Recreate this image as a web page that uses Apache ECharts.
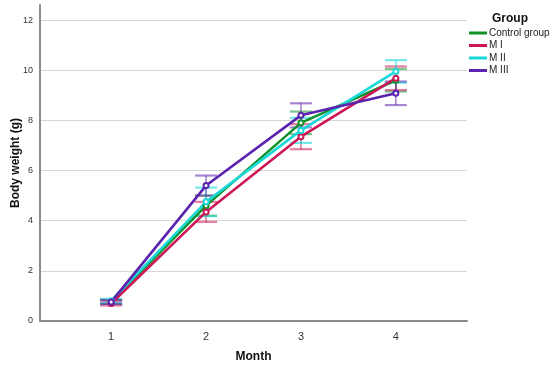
<!DOCTYPE html>
<html><head><meta charset="utf-8">
<script src="https://cdn.jsdelivr.net/npm/echarts@6/dist/echarts.min.js"></script>
<style>html,body{margin:0;padding:0;background:#fff}#c{width:550px;height:368px}</style>
</head><body><div id="c"></div>
<script>
var months = [1, 2, 3, 4];
var groupNames = ['Control group', 'M I', 'M II', 'M III'];
var controlMean = [0.76, 4.6, 7.9, 9.6];
var controlErr  = [0.08, 0.4, 0.45, 0.45];
var m1Mean = [0.70, 4.35, 7.35, 9.68];
var m1Err  = [0.08, 0.4, 0.5, 0.47];
var m2Mean = [0.80, 4.75, 7.6, 9.95];
var m2Err  = [0.08, 0.57, 0.5, 0.45];
var m3Mean = [0.76, 5.4, 8.2, 9.08];
var m3Err  = [0.08, 0.4, 0.48, 0.47];
var yTicks = [0, 2, 4, 6, 8, 10, 12];

var colors = ['#12912b', '#cc1656', '#1ad8d8', '#5a22ad'];
var errColors = ['rgba(18,145,43,0.55)', 'rgba(204,22,86,0.55)', 'rgba(26,216,216,0.6)', 'rgba(90,34,173,0.55)'];
var means = [controlMean, m1Mean, m2Mean, m3Mean];
var errs = [controlErr, m1Err, m2Err, m3Err];

var series = [];
means.forEach(function (m, gi) {
  var eData = months.map(function (x, i) { return [x, m[i] - errs[gi][i], m[i] + errs[gi][i]]; });
  series.push({
    type: 'custom', name: groupNames[gi] + ' err', z: 2, silent: true,
    renderItem: function (params, api) {
      var lo = api.coord([api.value(0), api.value(1)]);
      var hi = api.coord([api.value(0), api.value(2)]);
      var w = 11;
      var st = { stroke: errColors[gi], lineWidth: 1.6 };
      return { type: 'group', children: [
        { type: 'line', shape: { x1: lo[0], y1: lo[1], x2: hi[0], y2: hi[1] }, style: st },
        { type: 'line', shape: { x1: lo[0] - w, y1: lo[1], x2: lo[0] + w, y2: lo[1] }, style: { stroke: errColors[gi], lineWidth: 2.2 } },
        { type: 'line', shape: { x1: hi[0] - w, y1: hi[1], x2: hi[0] + w, y2: hi[1] }, style: { stroke: errColors[gi], lineWidth: 2.2 } }
      ]};
    },
    encode: { x: 0, y: [1, 2] },
    data: eData
  });
});
means.forEach(function (m, gi) {
  series.push({
    type: 'line', name: groupNames[gi], z: 3,
    data: months.map(function (x, i) { return [x, m[i]]; }),
    symbol: 'emptyCircle', symbolSize: 5,
    itemStyle: { color: colors[gi], borderWidth: 1 },
    lineStyle: { color: colors[gi], width: 2.6 },
    emphasis: { disabled: true }
  });
});

var chart = echarts.init(document.getElementById('c'));
chart.setOption({
  animation: false,
  backgroundColor: '#fff',
  title: { text: 'Group', left: 487, top: 8, textStyle: { fontFamily: 'Liberation Sans, Arial', fontSize: 12, fontWeight: 'bold', color: '#111' } },
  legend: {
    data: groupNames, orient: 'vertical', left: 469, top: 28, itemWidth: 18, itemHeight: 3, itemGap: 2.5,
    icon: 'rect', padding: 0,
    textStyle: { fontFamily: 'Liberation Sans, Arial', fontSize: 10, color: '#222', padding: [0, 0, 0, -3] }
  },
  grid: { left: 40, right: 83, top: 5, bottom: 47, outerBoundsMode: 'none', containLabel: false },
  xAxis: {
    type: 'value', min: 0.25, max: 4.75, interval: 0.25,
    name: 'Month', nameLocation: 'middle', nameGap: 30, nameMoveOverlap: false,
    nameTextStyle: { fontFamily: 'Liberation Sans, Arial', fontSize: 12, fontWeight: 'bold', color: '#111' },
    axisLine: { lineStyle: { color: '#8c8c8c', width: 2 } },
    axisTick: { show: false },
    splitLine: { show: false },
    axisLabel: { margin: 10, fontFamily: 'Liberation Sans, Arial', fontSize: 11, color: '#333',
      formatter: function (v) { return months.indexOf(v) >= 0 ? String(v) : ''; } }
  },
  yAxis: {
    type: 'value', min: 0, max: 12.6, interval: 2,
    name: 'Body weight (g)', nameLocation: 'middle', nameGap: 18, nameRotate: 90, nameMoveOverlap: false,
    nameTextStyle: { fontFamily: 'Liberation Sans, Arial', fontSize: 12, fontWeight: 'bold', color: '#111' },
    axisLine: { show: true, lineStyle: { color: '#8c8c8c', width: 2 } },
    axisTick: { show: false },
    splitLine: { show: true, showMaxLine: false, lineStyle: { color: '#d6d6d6', width: 1 } },
    axisLabel: { margin: 7, fontFamily: 'Liberation Sans, Arial', fontSize: 9, color: '#333', showMaxLabel: false,
      formatter: function (v) { return yTicks.indexOf(v) >= 0 ? String(v) : ''; } }
  },
  series: series
});
</script></body></html>
